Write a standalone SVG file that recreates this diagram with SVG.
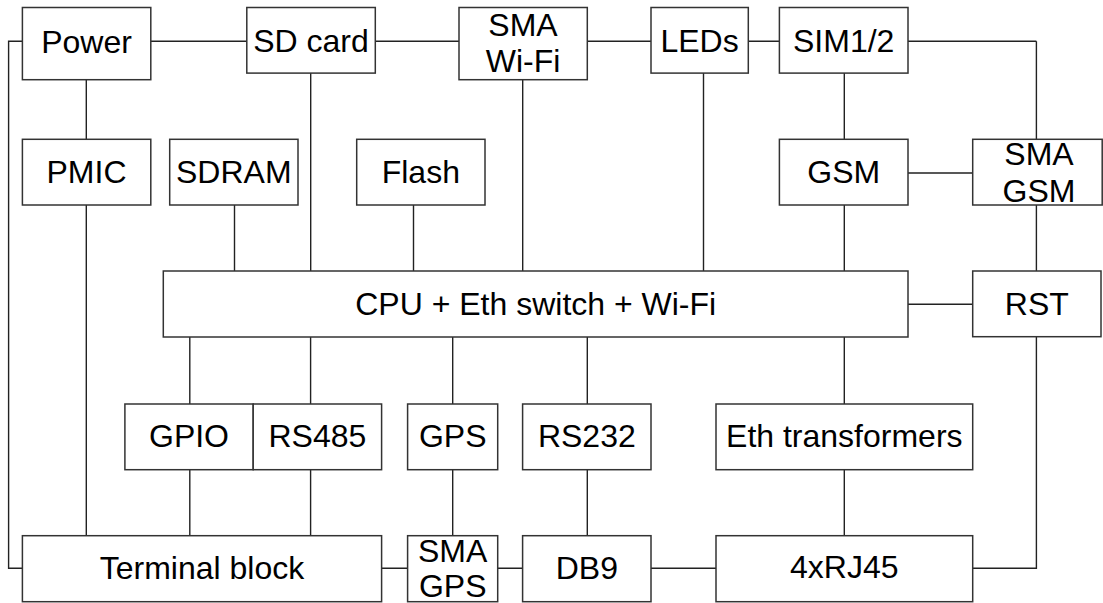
<svg xmlns="http://www.w3.org/2000/svg" width="1103" height="603" viewBox="0 0 1103 603">
<style>
.b{fill:#fff;stroke:#333;stroke-width:1.5}
.t{font-family:"Liberation Sans",Arial,sans-serif;font-size:32px;fill:#000;text-anchor:middle}
.c{fill:none;stroke:#222;stroke-width:1.4}
</style>
<rect width="1103" height="603" fill="#fff"/>
<g id="connectors" class="c">
<path d="M151 41.3H247M375 41.3H459M587 41.3H651M748 41.3H779.5"/>
<path d="M22.5 41.3H8.6V568.3H22.5"/>
<path d="M86.3 79.7V139.3M86.3 205V535.7"/>
<path d="M234.5 205V271M310.7 73V271M413.5 205V271M522.7 79.7V271M703.5 73V271"/>
<path d="M844.3 73V139.3M844.3 205V271M908 173H972.7M1036.4 41.3H908M1036.4 41.3V139.3M1036.4 205V271M908 304.3H972.7"/>
<path d="M1036.4 336.7V568.3H972.7"/>
<path d="M189.8 337V404M310.6 337V404M452.7 337V404M587.3 337V404M844.3 337V404"/>
<path d="M189.8 469.7V535.7M310.6 469.7V535.7M452.7 469.7V535.7M587.3 469.7V535.7M844.3 469.7V535.7"/>
<path d="M381.6 568.3H407.6M497.7 568.3H522.6M651 568.3H716"/>
</g>
<g id="power"><rect class="b" x="22.4" y="7.5" width="128.4" height="72.2"/><text class="t" x="86.5" y="53.3">Power</text></g>
<g id="sdcard"><rect class="b" x="246.8" y="7.5" width="128.5" height="65.6"/><text class="t" x="311" y="51.7">SD card</text></g>
<g id="smawifi"><rect class="b" x="459" y="7.5" width="128.3" height="72.2"/><text class="t" x="523" y="36">SMA</text><text class="t" x="523" y="72.3">Wi-Fi</text></g>
<g id="leds"><rect class="b" x="651" y="7.5" width="97.3" height="65.6"/><text class="t" x="699.6" y="51.7">LEDs</text></g>
<g id="sim"><rect class="b" x="779.4" y="7.5" width="128.6" height="65.6"/><text class="t" x="843.7" y="51.7">SIM1/2</text></g>
<g id="pmic"><rect class="b" x="22.4" y="139.3" width="128.4" height="65.7"/><text class="t" x="86.5" y="183.3">PMIC</text></g>
<g id="sdram"><rect class="b" x="169.7" y="139.3" width="128.3" height="65.7"/><text class="t" x="233.8" y="183.3">SDRAM</text></g>
<g id="flash"><rect class="b" x="356.7" y="139.3" width="128.3" height="65.7"/><text class="t" x="420.8" y="183.3">Flash</text></g>
<g id="gsm"><rect class="b" x="779.4" y="139.3" width="128.6" height="65.7"/><text class="t" x="843.7" y="183.3">GSM</text></g>
<g id="smagsm"><rect class="b" x="972.7" y="139.3" width="129.5" height="65.7"/><text class="t" x="1039" y="165">SMA</text><text class="t" x="1039" y="201.7">GSM</text></g>
<g id="cpu"><rect class="b" x="163.3" y="271" width="744.7" height="66"/><text class="t" x="535.7" y="315">CPU + Eth switch + Wi-Fi</text></g>
<g id="rst"><rect class="b" x="972.7" y="271" width="128.3" height="65.7"/><text class="t" x="1036.8" y="315">RST</text></g>
<g id="gpio"><rect class="b" x="124.9" y="404" width="128.3" height="65.7"/><text class="t" x="189" y="446.7">GPIO</text></g>
<g id="rs485"><rect class="b" x="253.2" y="404" width="128.4" height="65.7"/><text class="t" x="317.4" y="446.7">RS485</text></g>
<g id="gps"><rect class="b" x="407.6" y="404" width="90.1" height="65.7"/><text class="t" x="452.7" y="446.7">GPS</text></g>
<g id="rs232"><rect class="b" x="522.6" y="404" width="128.4" height="65.7"/><text class="t" x="586.8" y="446.7">RS232</text></g>
<g id="ethtr"><rect class="b" x="716" y="404" width="256.7" height="65.7"/><text class="t" x="844.3" y="446.7">Eth transformers</text></g>
<g id="terminal"><rect class="b" x="22.4" y="535.7" width="359.2" height="66"/><text class="t" x="202" y="579">Terminal block</text></g>
<g id="smagps"><rect class="b" x="407.6" y="535.7" width="90.1" height="66"/><text class="t" x="452.7" y="561.7">SMA</text><text class="t" x="452.7" y="596.7">GPS</text></g>
<g id="db9"><rect class="b" x="522.6" y="535.7" width="128.4" height="66"/><text class="t" x="586.8" y="579">DB9</text></g>
<g id="rj45"><rect class="b" x="716" y="535.7" width="256.7" height="66"/><text class="t" x="844.3" y="578.3">4xRJ45</text></g>
</svg>
